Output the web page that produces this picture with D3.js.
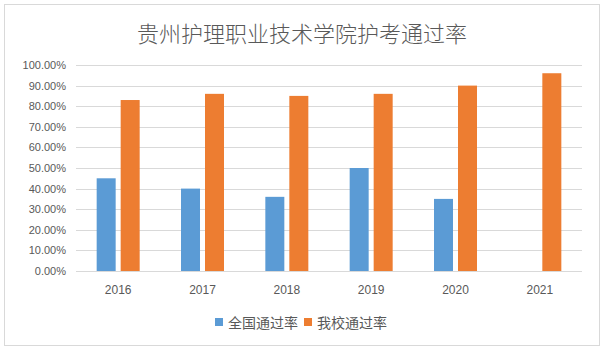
<!DOCTYPE html>
<html><head><meta charset="utf-8">
<script src="https://cdn.jsdelivr.net/npm/d3@7"></script>
<style>body{margin:0;background:#fff;}svg{display:block;font-family:"Noto Sans CJK SC","Noto Sans",sans-serif;}</style>
</head><body><svg id="c" width="605" height="351"></svg>
<script>
const title = "贵州护理职业技术学院护考通过率";
const years = ["2016","2017","2018","2019","2020","2021"];
const seriesNames = ["全国通过率","我校通过率"];
const national = [0.45,0.40,0.36,0.50,0.35,null];
const school = [0.83,0.86,0.85,0.86,0.90,0.96];
const colors = ["#5b9bd5","#ed7d31"];
const yTicks = [0,0.1,0.2,0.3,0.4,0.5,0.6,0.7,0.8,0.9,1.0];

const svg = d3.select("#c");
svg.append("rect").attr("x",4.5).attr("y",4.5).attr("width",595).attr("height",341)
  .attr("fill","#fff").attr("stroke","#d9d9d9");
svg.append("text").attr("x",302).attr("y",42).attr("text-anchor","middle")
  .attr("font-size",22).attr("fill","#595959").attr("font-weight",300).text(title);

const m = {l:76,r:582,t:65,b:271};
const x = d3.scaleBand().domain(years).range([m.l,m.r]);
const y = d3.scaleLinear().domain([0,1]).range([m.b,m.t]);

const g = svg.append("g");
g.selectAll("line.grid").data(yTicks).join("line").attr("class","grid")
  .attr("x1",m.l).attr("x2",m.r).attr("y1",d=>Math.round(y(d))+0.5).attr("y2",d=>Math.round(y(d))+0.5)
  .attr("stroke","#d9d9d9").attr("stroke-width",1);
g.selectAll("text.yl").data(yTicks).join("text").attr("class","yl")
  .attr("x",m.l-10).attr("y",d=>y(d)+4).attr("text-anchor","end")
  .attr("font-size",11).attr("fill","#595959").attr("font-family","'Liberation Sans',sans-serif")
  .text(d=>d3.format(".2%")(d));
g.selectAll("text.xl").data(years).join("text").attr("class","xl")
  .attr("x",d=>x(d)+x.bandwidth()/2).attr("y",294).attr("text-anchor","middle")
  .attr("font-size",12).attr("fill","#595959").attr("font-family","'Liberation Sans',sans-serif")
  .text(d=>d);

const bw = 19, gap = 5;
const sub = d3.scaleOrdinal().domain([0,1]).range([-(bw+gap/2), gap/2]);
[national, school].forEach((arr,si)=>{
  g.selectAll("rect.s"+si).data(years.map((yr,i)=>({yr,v:arr[i]})).filter(d=>d.v!=null))
    .join("rect").attr("class","s"+si)
    .attr("x",d=>x(d.yr)+x.bandwidth()/2+sub(si)).attr("width",bw)
    .attr("y",d=>y(d.v)).attr("height",d=>y(0)-y(d.v)).attr("fill",colors[si]);
});

const leg = svg.append("g");
const lx = [215,304];
seriesNames.forEach((n,i)=>{
  leg.append("rect").attr("x",lx[i]).attr("y",318).attr("width",8).attr("height",8).attr("fill",colors[i]);
  leg.append("text").attr("x",lx[i]+13).attr("y",327.5).attr("font-size",14).attr("fill","#595959").text(n);
});
</script></body></html>
